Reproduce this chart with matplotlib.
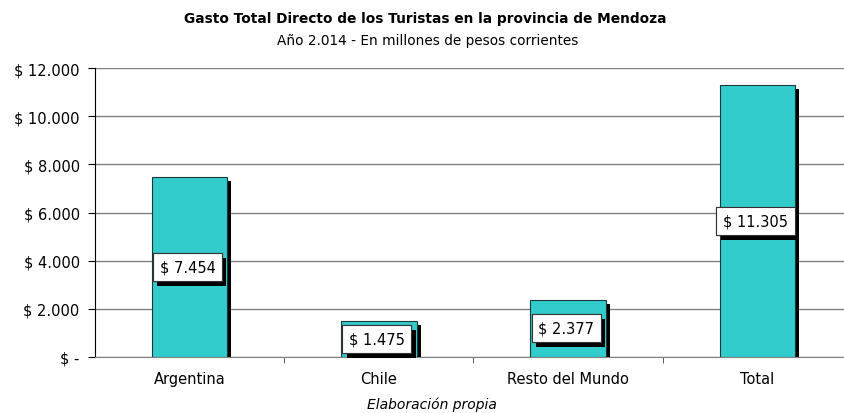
import matplotlib.pyplot as plt
import matplotlib.patheffects as pe
from matplotlib.transforms import ScaledTranslation
from matplotlib.ticker import FixedLocator, FuncFormatter

# Gasto por origen del turista (millones de pesos)
categorias = ['Argentina', 'Chile', 'Resto del Mundo', 'Total']
gasto = [7454, 1475, 2377, 11305]
ticks_y = [0, 2000, 4000, 6000, 8000, 10000, 12000]


def fmt_pesos(v, pos=None):
    if v == 0:
        return '$ -'
    return '$ ' + f'{v:,.0f}'.replace(',', '.')


plt.rcParams['font.family'] = 'DejaVu Sans'

fig = plt.figure(figsize=(8.45, 4.14), dpi=100)
ax = fig.add_axes([95 / 845, 1 - 358 / 414, 757 / 845, 289 / 414])

x = range(len(categorias))
ancho = 0.4

# sombra negra desplazada hacia abajo a la derecha
sombra = ax.transData + ScaledTranslation(4 / 100, -4 / 100, fig.dpi_scale_trans)
ax.bar(x, gasto, width=ancho, color='black', transform=sombra, zorder=2)
ax.bar(x, gasto, width=ancho, color='#33CCCC', edgecolor='#1a3a3a',
       linewidth=0.8, zorder=3)

for i, v in enumerate(gasto):
    t = ax.text(i - 0.01, v / 2, fmt_pesos(v), ha='center', va='center',
                fontsize=10.5, zorder=5,
                bbox=dict(boxstyle='square,pad=0.45', fc='white',
                          ec='#333333', lw=0.8))
    t.get_bbox_patch().set_path_effects([
        pe.withSimplePatchShadow(offset=(3, -3.5), shadow_rgbFace='black', alpha=1),
        pe.Normal()])

ax.set_xlim(-0.5, 3.5)
ax.set_ylim(0, 12000)
ax.yaxis.set_major_locator(FixedLocator(ticks_y))
ax.yaxis.set_major_formatter(FuncFormatter(fmt_pesos))
ax.grid(axis='y', color='#808080', linewidth=1, zorder=0)
ax.set_axisbelow(True)

ax.set_xticks(list(x))
ax.set_xticklabels(categorias)
ax.xaxis.set_minor_locator(FixedLocator([0.5, 1.5, 2.5]))
ax.tick_params(axis='x', which='major', length=0, pad=10, labelsize=10.5)
ax.tick_params(axis='x', which='minor', length=4, color='#404040', direction='out')
ax.tick_params(axis='y', length=5, color='black', labelsize=10.5, pad=6)

for lado in ['top', 'right']:
    ax.spines[lado].set_visible(False)
ax.spines['left'].set_color('black')
ax.spines['bottom'].set_color('#808080')

fig.text(425 / 845, 1 - 19 / 414,
         'Gasto Total Directo de los Turistas en la provincia de Mendoza',
         ha='center', va='center', fontsize=9.9, fontweight='bold')
fig.text(428 / 845, 1 - 41 / 414,
         'Año 2.014 - En millones de pesos corrientes',
         ha='center', va='center', fontsize=9.8)
fig.text(432 / 845, 1 - 405 / 414, 'Elaboración propia',
         ha='center', va='center', fontsize=10, style='italic')

fig.savefig('out.png', dpi=100)
